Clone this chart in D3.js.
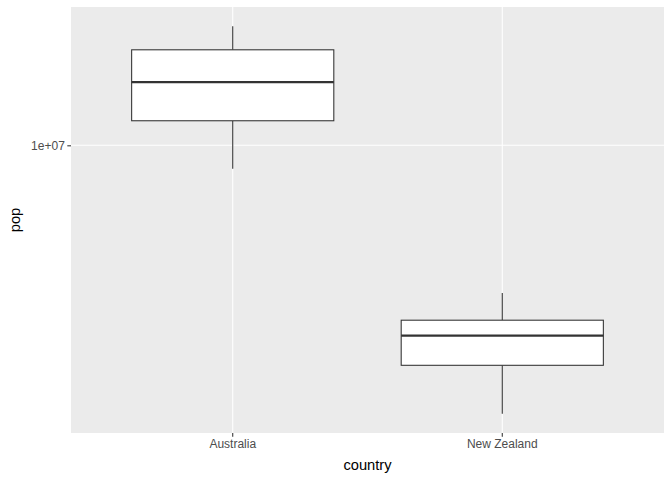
<!DOCTYPE html>
<html><head><meta charset="utf-8">
<script src="https://cdn.jsdelivr.net/npm/d3@7"></script>
<style>body{margin:0;background:#fff}svg{display:block}text{font-family:"Liberation Sans",Arial,sans-serif}</style>
</head><body>
<svg id="c" width="672" height="480"></svg>
<script>
const countries = ["Australia", "New Zealand"];
const whiskerLow = [8691212, 1994794];
const q1 = [11590000, 2667000];
const median = [14620000, 3188000];
const q3 = [17750000, 3497000];
const whiskerHigh = [20434176, 4115771];
const yTicks = [1e7];
const yTickLabels = ["1e+07"];

const W = 672, H = 480;
const m = {left: 71, right: 8, top: 7, bottom: 47};
const svg = d3.select("#c");
const pw = W - m.left - m.right, ph = H - m.top - m.bottom;

const lo = Math.log10(d3.min(whiskerLow)), hi = Math.log10(d3.max(whiskerHigh));
const pad = (hi - lo) * 0.05;
const y = d3.scaleLog().domain([Math.pow(10, lo - pad), Math.pow(10, hi + pad)]).range([m.top + ph, m.top]);
const x = d3.scaleLinear().domain([0.4, countries.length + 0.6]).range([m.left, m.left + pw]);
const bw = 0.75;

svg.append("rect").attr("x", m.left).attr("y", m.top).attr("width", pw).attr("height", ph).attr("fill", "#EBEBEB");

const g = svg.append("g");
yTicks.forEach(t => g.append("line").attr("x1", m.left).attr("x2", m.left + pw).attr("y1", y(t)).attr("y2", y(t)).attr("stroke", "#fff").attr("stroke-width", 1.07));
countries.forEach((c, i) => g.append("line").attr("x1", x(i + 1)).attr("x2", x(i + 1)).attr("y1", m.top).attr("y2", m.top + ph).attr("stroke", "#fff").attr("stroke-width", 1.07));

countries.forEach((c, i) => {
  const cx = x(i + 1);
  const bg = svg.append("g");
  bg.append("line").attr("x1", cx).attr("x2", cx).attr("y1", y(q3[i])).attr("y2", y(whiskerHigh[i])).attr("stroke", "#333").attr("stroke-width", 1.07);
  bg.append("line").attr("x1", cx).attr("x2", cx).attr("y1", y(q1[i])).attr("y2", y(whiskerLow[i])).attr("stroke", "#333").attr("stroke-width", 1.07);
  bg.append("rect").attr("x", x(i + 1 - bw / 2)).attr("width", x(i + 1 + bw / 2) - x(i + 1 - bw / 2))
    .attr("y", y(q3[i])).attr("height", y(q1[i]) - y(q3[i])).attr("fill", "#fff").attr("stroke", "#333").attr("stroke-width", 1.07);
  bg.append("line").attr("x1", x(i + 1 - bw / 2)).attr("x2", x(i + 1 + bw / 2)).attr("y1", y(median[i])).attr("y2", y(median[i])).attr("stroke", "#333").attr("stroke-width", 2.13);
});

// axes
const yAxis = d3.axisLeft(y).tickValues(yTicks).tickFormat((d, i) => yTickLabels[i]).tickSize(3.7).tickPadding(2.5);
const ya = svg.append("g").attr("transform", `translate(${m.left},0)`).call(yAxis);
ya.select(".domain").remove();
ya.selectAll("line").attr("stroke", "#333").attr("stroke-width", 1.07);
ya.selectAll("text").attr("fill", "#4D4D4D").style("font-size", "12px");

const xb = d3.scaleBand().domain(countries).range([x(0.5), x(countries.length + 0.5)]);
const xAxis = d3.axisBottom(xb).tickSize(3.7).tickPadding(2.5);
const xa = svg.append("g").attr("transform", `translate(0,${m.top + ph})`).call(xAxis);
xa.select(".domain").remove();
xa.selectAll("line").attr("stroke", "#333").attr("stroke-width", 1.07);
xa.selectAll("text").attr("fill", "#4D4D4D").style("font-size", "12px");

svg.append("text").attr("x", m.left + pw / 2).attr("y", 470).attr("text-anchor", "middle").style("font-size", "14.7px").attr("fill", "#000").text("country");
svg.append("text").attr("transform", `translate(20,${m.top + ph / 2}) rotate(-90)`).attr("text-anchor", "middle").style("font-size", "14.7px").attr("fill", "#000").text("pop");
</script>
</body></html>
